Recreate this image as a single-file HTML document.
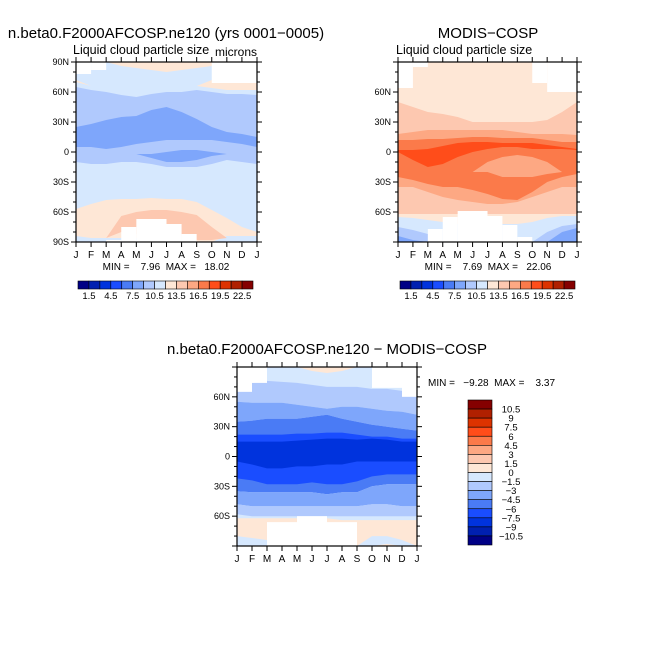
<!DOCTYPE html>
<html><head><meta charset="utf-8"><style>
html,body{margin:0;padding:0;background:#fff;}
svg{display:block;font-family:"Liberation Sans","DejaVu Sans",sans-serif;}
text{white-space:pre;}
</style></head><body>
<svg id="chart" width="654" height="654" viewBox="0 0 654 654"></svg>
<script>
// ===== data =====
const months = ["J","F","M","A","M","J","J","A","S","O","N","D","J"];
const palette = ["#000085","#0020b0","#0033dd","#1a4dff","#4a7bf5","#7ea6fb","#b0c9fd","#d6e8fe","#fee7d6","#fdc8b0","#fda883","#fb7a4a","#ff4d1a","#dd3300","#b02000","#850000"];
const absLabels = ["1.5","4.5","7.5","10.5","13.5","16.5","19.5","22.5"];
const diffLabels = ["10.5","9","7.5","6","4.5","3","1.5","0","\u22121.5","\u22123","\u22124.5","\u22126","\u22127.5","\u22129","\u221210.5"];
// Band boundaries (latitude per month, J..J), colour index into palette
const modelBands = [
 {c:6, top:[65,62,60,57,55,58,60,60,62,60,58,58,57], bot:[-10,-12,-12,-10,-10,-12,-15,-15,-15,-12,-8,-10,-12]},
 {c:5, top:[25,28,32,35,36,42,45,40,33,25,20,18,15], bot:[5,5,3,5,8,10,12,12,12,12,10,8,5]},
 {c:5, top:[-2,-2,-2,-2,-2,-2,0,2,2,0,-2,-2,-2], bot:[-2,-2,-2,-2,-2,-6,-10,-10,-8,-4,-2,-2,-2]},
 {c:8, top:[-57,-52,-48,-47,-47,-46,-47,-47,-50,-58,-66,-75,-80], bot:[-84,-86,-86,-86,-86,-88,-88,-88,-90,-90,-84,-84,-84]},
 {c:9, top:[-86,-86,-86,-64,-60,-58,-58,-60,-63,-75,-86,-86,-86], bot:[-86,-86,-86,-80,-82,-84,-84,-84,-88,-88,-86,-86,-86]},
 {c:8, top:[90,90,90,90,90,90,90,90,90,90,90,90,90], bot:[90,90,90,86,84,82,80,82,84,86,90,90,90]},
 {c:8, top:[72,66,66,66,66,66,66,66,66,72,74,76,72], bot:[70,66,66,66,66,66,66,66,66,64,62,62,62]}
];
const modisBands = [
 {c:9, top:[50,45,40,38,35,30,30,30,30,30,32,40,50], bot:[-62,-62,-62,-62,-62,-62,-62,-62,-62,-62,-62,-62,-62]},
 {c:10, top:[18,20,22,22,22,22,22,22,20,18,18,18,17], bot:[-35,-35,-40,-45,-48,-50,-52,-52,-50,-45,-40,-35,-35]},
 {c:11, top:[12,12,13,13,14,15,15,14,14,14,12,10,10], bot:[-25,-28,-32,-35,-35,-38,-42,-47,-48,-40,-30,-25,-22]},
 {c:10, top:[-20,-20,-20,-20,-20,-20,-10,-5,-3,-5,-10,-20,-20], bot:[-20,-20,-20,-20,-20,-20,-20,-25,-25,-25,-22,-20,-20]},
 {c:12, top:[2,2,3,6,9,10,10,9,9,9,7,5,3], bot:[0,-8,-15,-12,-5,0,3,5,5,3,3,3,2]},
 {c:7, top:[-65,-66,-68,-70,-72,-72,-72,-72,-72,-70,-66,-64,-64], bot:[-90,-90,-90,-90,-90,-90,-90,-90,-90,-90,-90,-90,-90]},
 {c:6, top:[-75,-78,-82,-90,-90,-90,-90,-90,-90,-90,-80,-74,-72], bot:[-90,-90,-90,-90,-90,-90,-90,-90,-90,-90,-90,-90,-90]},
 {c:5, top:[-84,-88,-90,-90,-90,-90,-90,-90,-90,-90,-90,-80,-76], bot:[-90,-90,-90,-90,-90,-90,-90,-90,-90,-90,-90,-90,-90]}
];
const diffBands = [
 {c:6, top:[72,74,76,75,74,72,70,70,70,68,68,66,64], bot:[55,54,54,54,52,50,48,50,50,48,46,45,42]},
 {c:5, top:[55,54,54,54,52,50,48,50,50,48,46,45,42], bot:[35,36,38,38,38,40,42,38,35,32,30,28,26]},
 {c:4, top:[35,36,38,38,38,40,42,38,35,32,30,28,26], bot:[-35,-36,-36,-36,-36,-36,-38,-36,-36,-30,-28,-28,-28]},
 {c:3, top:[22,22,22,22,23,23,24,24,22,20,20,18,18], bot:[-22,-24,-28,-28,-28,-26,-28,-28,-25,-20,-18,-18,-18]},
 {c:2, top:[15,15,15,15,16,17,18,18,17,18,17,15,15], bot:[-5,-8,-12,-12,-10,-10,-8,-8,-5,-5,-5,-5,-5]},
 {c:5, top:[-35,-36,-36,-36,-36,-36,-38,-36,-36,-30,-28,-28,-28], bot:[-48,-50,-50,-50,-50,-50,-50,-50,-50,-48,-48,-50,-50]},
 {c:6, top:[-48,-50,-50,-50,-50,-50,-50,-50,-50,-48,-48,-50,-50], bot:[-58,-60,-60,-60,-60,-60,-60,-60,-60,-60,-60,-60,-60]},
 {c:8, top:[-62,-62,-62,-62,-62,-62,-62,-64,-64,-64,-64,-64,-64], bot:[-90,-90,-90,-90,-90,-90,-90,-90,-90,-90,-90,-90,-90]},
 {c:7, top:[-80,-82,-84,-90,-90,-90,-90,-90,-90,-80,-80,-84,-90], bot:[-90,-90,-90,-90,-90,-90,-90,-90,-90,-90,-88,-90,-90]},
 {c:8, top:[90,90,90,90,90,90,90,90,90,90,90,90,90], bot:[90,90,90,90,90,86,84,86,90,90,90,90,90]}
];
// missing-data regions: [monthStart, monthEnd, latTop, latBottom]
const modelMissing = [[0,1,90,78],[1,2,90,82],[9,12,90,69],[2,3,-88,-90],[3,4,-75,-90],[4,6,-67,-90],[6,7,-72,-90],[7,8,-82,-90]];
const modisMissing = [[0,1,90,64],[1,2,90,85],[9,10,90,69],[10,12,90,60],[2,3,-77,-90],[3,4,-65,-90],[4,6,-59,-90],[6,7,-64,-90],[7,8,-73,-90],[8,9,-85,-90]];
const diffMissing = [[0,1,90,65],[1,2,90,74],[9,11,90,69],[11,12,90,60],[2,4,-66,-90],[4,6,-60,-90],[6,8,-66,-90]];
const panels = [
 {id:"model", x0:76,x1:257,y0:62,y1:242, bands:modelBands, miss:modelMissing, bg:7, lat:[90,60,30,0,-30,-60,-90]},
 {id:"modis", x0:398,x1:577,y0:62,y1:242, bands:modisBands, miss:modisMissing, bg:8, lat:[60,30,0,-30,-60]},
 {id:"diff", x0:237,x1:417,y0:367,y1:546, bands:diffBands, miss:diffMissing, bg:7, lat:[60,30,0,-30,-60]}
];
// ===== drawing =====
const svg=document.getElementById('chart');
const NS="http://www.w3.org/2000/svg";
function el(t,a,p){const e=document.createElementNS(NS,t);for(const k in a)e.setAttribute(k,a[k]);(p||svg).appendChild(e);return e;}
function txt(s,x,y,size,anchor,p){const e=el('text',{x:x,y:y,'font-size':size,'text-anchor':anchor||'start',fill:'#000'},p);e.textContent=s;return e;}
function latLabel(v){return v===0?"0":Math.abs(v)+(v>0?"N":"S");}
panels.forEach(P=>{
 const g=el('g',{});
 
 
 const xs=m=>P.x0+m*(P.x1-P.x0)/12;
 const ys=l=>P.y0+(90-l)*(P.y1-P.y0)/180;
 const bg=el('rect',{x:P.x0,y:P.y0,width:P.x1-P.x0,height:P.y1-P.y0,fill:palette[P.bg]},g);
 
 
 P.bands.forEach((b,i)=>{
  let d="";
  b.top.forEach((v,m)=>{d+=(m?"L":"M")+xs(m).toFixed(1)+","+ys(v).toFixed(1);});
  for(let m=12;m>=0;m--)d+="L"+xs(m).toFixed(1)+","+ys(b.bot[m]).toFixed(1);
  const p=el('path',{d:d+"Z",fill:palette[b.c]},g);
  
  
 });
 P.miss.forEach(r=>{
  const q=el('rect',{x:xs(r[0]),y:ys(r[2]),width:xs(r[1])-xs(r[0]),height:ys(r[3])-ys(r[2]),fill:'#fff'},g);
  
  
 });
 const fr=el('rect',{x:P.x0,y:P.y0,width:P.x1-P.x0,height:P.y1-P.y0,fill:'none',stroke:'#000','stroke-width':1.2},g);
 
 
 months.forEach((m,i)=>{
  const x=xs(i);
  el('line',{x1:x,x2:x,y1:P.y1,y2:P.y1+5,stroke:'#000'},g);
  el('line',{x1:x,x2:x,y1:P.y0,y2:P.y0-5,stroke:'#000'},g);
  const t=txt(m,x,P.y1+16,10,'middle',g);
  
  
 });
 for(let l=-90;l<=90;l+=10){
  const y=ys(l),major=(l%30===0);
  const L=major?5:3;
  el('line',{x1:P.x0-L,x2:P.x0,y1:y,y2:y,stroke:'#000'},g);
  el('line',{x1:P.x1,x2:P.x1+L,y1:y,y2:y,stroke:'#000'},g);
 }
 P.lat.forEach(l=>{
  const t=txt(latLabel(l),P.x0-7,ys(l)+3,9,'end',g);
  
  
 });
});
function hbar(x0,x1,y0,y1,name){
 const g=el('g',{});
 
 
 const w=(x1-x0)/palette.length;
 palette.forEach((c,i)=>{el('rect',{x:x0+i*w,y:y0,width:w,height:y1-y0,fill:c,stroke:'#000','stroke-width':0.6},g);});
 absLabels.forEach((s,i)=>{txt(s,x0+(2*i+1)*w,y1+10,9.5,'middle',g);});
}
hbar(78,253,281,289,'model-colorbar');
hbar(400,575,281,289,'modis-colorbar');
(function(){
 const g=el('g',{});
 
 
 const x0=468,x1=492,y0=400,y1=545,h=(y1-y0)/16;
 palette.slice().reverse().forEach((c,i)=>{el('rect',{x:x0,y:y0+i*h,width:x1-x0,height:h,fill:c,stroke:'#000','stroke-width':0.6},g);});
 diffLabels.forEach((s,i)=>{txt(s,x1+19,y0+(i+1)*h+3.5,9.5,'middle',g);});
})();
function T(s,x,y,size,anchor,name){const t=txt(s,x,y,size,anchor);}
T("n.beta0.F2000AFCOSP.ne120 (yrs 0001\u22120005)",166,38,15,'middle','model-title');
T("Liquid cloud particle size",73,54,12.5,'start','model-subtitle');
T("microns",257,56,12,'end','model-units');
T("MIN =    7.96  MAX =   18.02",166,270,10,'middle','model-min-max');
T("MODIS\u2212COSP",488,38,15,'middle','modis-title');
T("Liquid cloud particle size",396,54,12.5,'start','modis-subtitle');
T("MIN =    7.69  MAX =   22.06",488,270,10,'middle','modis-min-max');
T("n.beta0.F2000AFCOSP.ne120 \u2212 MODIS\u2212COSP",327,354,15,'middle','diff-title');
T("MIN =   \u22129.28  MAX =    3.37",428,386,10,'start','diff-min-max');
</script>
</body></html>
